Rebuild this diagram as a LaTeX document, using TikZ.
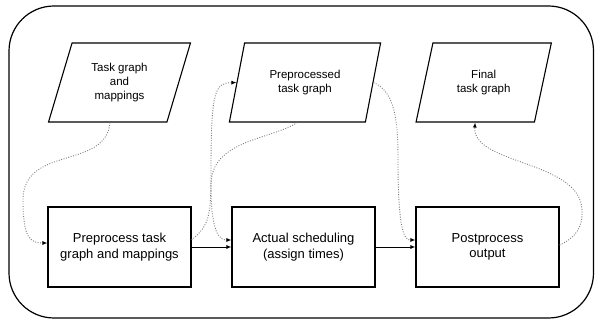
\documentclass[tikz,border=0pt]{standalone}
\usepackage{fontspec}
\setmainfont{Liberation Sans}
\usepackage{tikz}
\usetikzlibrary{arrows.meta,calc,shapes.geometric}
\definecolor{SchedLine}{HTML}{000000}
\definecolor{SchedTrace}{HTML}{7A7A7A}

\begin{document}
\begin{tikzpicture}[
  x=1pt,y=-1pt,>=Latex,
  flow/.style={-{Latex[length=5pt,width=4pt]},draw=SchedLine,line width=0.9pt},
  trace/.style={-{Latex[length=5pt,width=4pt,SchedLine]},draw=SchedTrace,
    dash pattern=on 0.9pt off 1.6pt,line width=0.9pt},
  frame/.style={draw=SchedLine,line width=1.2pt,rounded corners=45pt},
  stepbox/.style={draw=SchedLine,fill=white,line width=1.1pt,
    minimum width=143pt,minimum height=80pt,inner sep=2pt,align=center,
    font=\fontsize{13}{15.6}\selectfont},
  datashape/.style={trapezium,trapezium left angle=70,trapezium right angle=110,
    trapezium stretches=true,draw=SchedLine,fill=white,line width=1.1pt,
    minimum height=79pt,inner sep=0pt,align=center,
    font=\fontsize{11.5}{13.8}\selectfont}
]
\useasboundingbox (0,0) rectangle (595,320);

\draw[frame] (9,6) rectangle (593.5,318);

% inputs and outputs
\node[datashape,minimum width=143pt] (input) at (119.5,82.5)
  {Task graph\\and\\mappings};
\node[datashape,minimum width=152pt] (pretg) at (305,82.5)
  {Preprocessed\\task graph};
\node[datashape,minimum width=136pt] (finaltg) at (483.7,82.5)
  {Final\\task graph};

% processing steps
\node[stepbox] (preproc) at (119.5,247) {Preprocess task\\graph and mappings};
\node[stepbox] (sched) at (303.5,247) {Actual scheduling\\(assign times)};
\node[stepbox] (postproc) at (487.5,247) {Postprocess\\output};

\draw[flow] (preproc.east) -- (sched.west);
\draw[flow] (sched.east) -- (postproc.west);

% data moving between shapes
\coordinate (inputbot) at ($(input.bottom left corner)!0.52!(input.bottom right corner)$);
\coordinate (pretgbot) at ($(pretg.bottom left corner)!0.5!(pretg.bottom right corner)$);
\coordinate (finalbot) at ($(finaltg.bottom left corner)!0.5!(finaltg.bottom right corner)$);

\draw[trace] (inputbot) .. controls (106,170) and (23,145) .. (23,200)
  .. controls (23,238) and (30,243) .. ([yshift=4pt]preproc.west);
\draw[trace] ([yshift=7pt]preproc.east) .. controls (210,225) and (211,215) .. (211,170)
  .. controls (211,90) and (215,83) .. (pretg.west);
\draw[trace] (pretgbot) .. controls (270,140) and (211,140) .. (211,185)
  .. controls (211,235) and (220,240) .. ([yshift=7pt]sched.west);
\draw[trace] (pretg.east) .. controls (395,92) and (398,120) .. (398,160)
  .. controls (398,235) and (405,240) .. ([yshift=7pt]postproc.west);
\draw[trace] ([yshift=2pt]postproc.east) .. controls (575,238) and (583,228) .. (582,210)
  .. controls (580,160) and (472,165) .. (finalbot);

\end{tikzpicture}
\end{document}
